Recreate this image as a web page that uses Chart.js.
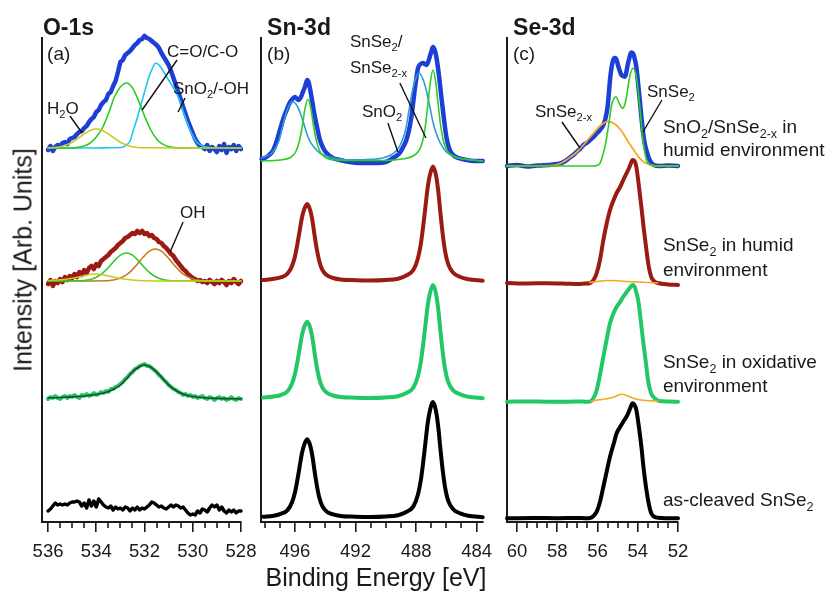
<!DOCTYPE html>
<html>
<head>
<meta charset="utf-8">
<script src="https://cdn.jsdelivr.net/npm/chart.js@4.4.0/dist/chart.umd.min.js"></script>
<style>
  body { margin: 0; background: #fff; }
  #wrap { position: relative; width: 825px; height: 591px; font-family: "Liberation Sans", Arial, sans-serif; color: #1a1a1a; }
  #wrap canvas { position: absolute; left: 0; top: 0; }
  .ytitle { position: absolute; left: 23px; top: 260px; transform: translate(-50%, -50%) rotate(-90deg); font-size: 25px; white-space: nowrap; }
  .xtitle { position: absolute; left: 376px; top: 577px; transform: translate(-50%, -50%); font-size: 25px; white-space: nowrap; }
</style>
</head>
<body>
<div id="wrap">
  <canvas id="chartA" width="825" height="591"></canvas>
  <canvas id="chartB" width="825" height="591"></canvas>
  <canvas id="chartC" width="825" height="591"></canvas>
  <div class="ytitle">Intensity [Arb. Units]</div>
  <div class="xtitle">Binding Energy [eV]</div>
</div>
<script>
// ---- tick labels ----
const o1sMajor = [536, 534, 532, 530, 528];
const o1sMinor = [535.5, 535, 534.5, 533.5, 533, 532.5, 531.5, 531, 530.5, 529.5, 529, 528.5];
const sn3dMajor = [496, 492, 488, 484];
const sn3dMinor = [498, 497, 495, 494, 493, 491, 490, 489, 487, 486, 485];
const se3dMajor = [60, 58, 56, 54, 52];
const se3dMinor = [59.5, 59, 58.5, 57.5, 57, 56.5, 55.5, 55, 54.5, 53.5, 53, 52.5];

// ---- O-1s (a) : measured traces on a common energy grid ----
const o1sEnergy = [
  536.0, 535.9, 535.8, 535.7, 535.6, 535.5, 535.4, 535.3, 535.2, 535.1,
  535.0, 534.9, 534.8, 534.7, 534.6, 534.5, 534.4, 534.3, 534.2, 534.1,
  534.0, 533.9, 533.8, 533.7, 533.6, 533.5, 533.4, 533.3, 533.2, 533.1,
  533.0, 532.9, 532.8, 532.7, 532.6, 532.5, 532.4, 532.3, 532.2, 532.1,
  532.0, 531.9, 531.8, 531.7, 531.6, 531.5, 531.4, 531.3, 531.2, 531.1,
  531.0, 530.9, 530.8, 530.7, 530.6, 530.5, 530.4, 530.3, 530.2, 530.1,
  530.0, 529.9, 529.8, 529.7, 529.6, 529.5, 529.4, 529.3, 529.2, 529.1,
  529.0, 528.9, 528.8, 528.7, 528.6, 528.5, 528.4, 528.3, 528.2, 528.1,
  528.0];
const o1sHumidOx = [
  372, 376, 371, 375, 377, 376, 379, 380, 378, 383,
  384, 385, 388, 390, 391, 394, 396, 400, 403, 405,
  410, 412, 417, 420, 422, 428, 430, 436, 441, 450,
  460, 462, 467, 469, 471, 474, 477, 479, 482, 483,
  486, 484, 483, 481, 479, 477, 474, 469, 465, 461,
  457, 451, 444, 437, 430, 423, 415, 408, 401, 395,
  389, 383, 379, 376, 375, 373, 377, 371, 375, 373,
  370, 376, 372, 378, 369, 375, 373, 377, 371, 376,
  373];
const o1sHumid = [
  238, 242, 236, 241, 239, 243, 240, 245, 242, 246,
  244, 248, 245, 250, 247, 252, 249, 254, 256, 253,
  258, 256, 261, 263, 265, 267, 270, 272, 274, 277,
  279, 281, 284, 285, 287, 289, 288, 291, 289, 291,
  288, 289, 286, 287, 284, 283, 280, 279, 276, 274,
  271, 268, 266, 262, 259, 256, 253, 251, 248, 246,
  244, 243, 241, 242, 240, 241, 239, 242, 240, 238,
  241, 239, 242, 240, 237, 241, 239, 243, 240, 238,
  241];
const o1sOxid = [
  123, 125, 124, 126, 124, 123, 125, 126, 124, 126,
  125, 127, 125, 124, 127, 126, 128, 126, 127, 129,
  127, 128, 130, 129, 131, 130, 133, 133, 135, 136,
  138, 140, 143, 145, 148, 150, 153, 154, 156, 157,
  158, 156, 156, 154, 152, 150, 147, 145, 142, 140,
  137, 135, 133, 132, 130, 129, 127, 128, 126, 127,
  125, 126, 124, 125, 126, 124, 123, 125, 124, 122,
  124, 125, 123, 124, 122, 123, 125, 123, 122, 124,
  123];
const o1sCleaved = [
  11, 13, 16, 19, 17, 18, 17, 18, 17, 19,
  20, 20, 21, 20, 16, 19, 14, 22, 16, 21,
  15, 23, 20, 17, 15, 14, 16, 12, 15, 13,
  14, 12, 15, 14, 11, 14, 12, 15, 12, 14,
  13, 15, 17, 20, 19, 17, 15, 16, 14, 13,
  15, 17, 15, 17, 16, 14, 15, 12, 9, 7,
  8, 7, 11, 9, 13, 12, 10, 14, 17, 15,
  17, 12, 15, 11, 9, 12, 10, 12, 9, 11,
  11];

// O-1s fitted components
const o1sH2oE = [536, 535.75, 535.5, 535.25, 535, 534.75, 534.5, 534.25, 534, 533.75, 533.5, 533.25, 533, 532.75, 532.5, 532.25, 532, 530, 528];
const o1sH2oY = [374.2, 374.5, 375.3, 377, 379.8, 383.8, 388.1, 391.6, 393, 391.6, 388.1, 383.8, 379.8, 377, 375.3, 374.5, 374.2, 374, 374];
const o1sCoE = [536, 535, 534.75, 534.5, 534.25, 534, 533.75, 533.5, 533.25, 533, 532.75, 532.5, 532.25, 532, 531.75, 531.5, 531.25, 531, 530.75, 530.5, 528];
const o1sCoY = [374, 374, 374.6, 376, 379, 385, 394, 408, 425, 435, 439, 434, 421.4, 406, 392.5, 383.1, 377.8, 375.4, 374.4, 374, 374];
const o1sSnO2E = [536, 534, 533.5, 533, 532.88, 532.75, 532.6, 532.46, 532.3, 532.19, 532.0, 531.8, 531.65, 531.54, 531.4, 531.2, 531.0, 530.85, 530.67, 530.5, 530.39, 530.25, 530.11, 529.97, 529.84, 529.6, 529.3, 529, 528];
const o1sSnO2Y = [374, 374, 374.2, 374.5, 375, 377, 381, 392, 404, 413.7, 430, 446, 455, 459, 457, 450, 442, 436, 428.7, 419, 410, 401, 392, 385, 380, 376, 374.5, 374, 374];
const o1sHumidH2oE = [536, 535.5, 535, 534.5, 534.1, 533.75, 533.5, 533, 532.5, 532, 530, 528];
const o1sHumidH2oY = [241.5, 242.2, 243.8, 246.2, 248, 247.3, 246, 243.5, 242, 241.3, 241, 241];
const o1sHumidCoE = [536, 534.75, 534.5, 534.25, 534, 533.75, 533.5, 533.25, 533, 532.75, 532.5, 532.25, 532, 531.75, 531.5, 531.25, 531, 530.75, 528];
const o1sHumidCoY = [241, 241.2, 241.5, 242.5, 244.7, 248.6, 254.5, 261.2, 266.8, 269, 266.8, 261.2, 254.5, 248.6, 244.7, 242.5, 241.5, 241.2, 241];
const o1sOhE = [536, 533.55, 533.3, 533.05, 532.8, 532.55, 532.3, 532.05, 531.8, 531.55, 531.3, 531.05, 530.8, 530.55, 530.3, 530.05, 529.8, 529.55, 529.3, 528];
const o1sOhY = [241, 241.3, 242, 243.4, 246.3, 251.2, 257.8, 265, 270.8, 273, 270.8, 265, 257.8, 251.2, 246.3, 243.4, 242, 241.3, 241.1, 241];
const o1sOxidFitE = [536, 535.75, 535.5, 535.25, 535, 534.75, 534.5, 534.25, 534, 533.75, 533.5, 533.25, 533, 532.75, 532.5, 532.25, 532, 531.75, 531.5, 531.25, 531, 530.75, 530.5, 530.25, 530, 529.75, 529.5, 529.25, 529, 528.75, 528.5, 528.25, 528];
const o1sOxidFitY = [124.2, 124.3, 124.5, 124.8, 125.1, 125.5, 126, 126.7, 127.5, 128.7, 130.5, 133.2, 137, 143.2, 150, 154.8, 157, 155, 150.2, 143.5, 137.2, 132.5, 129, 126.8, 125.5, 124.7, 124.2, 123.8, 123.6, 123.4, 123.3, 123.2, 123.1];

// ---- Sn-3d (b) ----
const sn3dBlueE = [498.2, 497.98, 497.7, 497.43, 497.2, 496.99, 496.75, 496.55, 496.35, 496.22, 496.0, 495.85, 495.78, 495.6, 495.45, 495.34, 495.19, 495.1, 495.01, 494.85, 494.68, 494.5, 494.35, 494.1, 493.91, 493.5, 493.03, 492.4, 491.71, 491.0, 490.61, 490.0, 489.52, 489.3, 489.08, 488.85, 488.64, 488.45, 488.31, 488.2, 488.09, 487.97, 487.87, 487.7, 487.54, 487.42, 487.32, 487.2, 487.1, 486.98, 486.88, 486.77, 486.66, 486.5, 486.33, 486.15, 486.0, 485.8, 485.56, 485.2, 484.68, 484.2, 483.6];
const sn3dBlueY = [363, 364, 367, 372, 381, 392, 404, 412, 419, 422, 425, 423, 422, 425, 431, 435, 442, 440, 434, 420, 405, 392, 382, 373, 369, 364, 362, 360, 359, 359, 359, 360, 364, 366, 369, 375, 382, 393, 405, 418, 432, 445, 454, 458, 459, 458, 457, 460, 465, 471, 475, 472, 465, 448, 425, 402, 385, 373, 367, 364, 362, 361, 361];
const sn3dSnSe2E = [498.2, 497.0, 496.3, 495.95, 495.7, 495.5, 495.34, 495.14, 494.94, 494.78, 494.58, 494.33, 493.98, 493.3, 492.0, 490.5, 489.5, 488.8, 488.2, 487.8, 487.6, 487.4, 487.22, 487.07, 486.88, 486.69, 486.54, 486.36, 486.16, 485.96, 485.56, 484.96, 484.26, 483.6];
const sn3dSnSe2Y = [361, 362, 364.5, 370, 381, 397, 413, 422.7, 413, 397, 381, 370, 364.5, 362, 361.5, 361.5, 362, 363.2, 366, 371.5, 379, 394.5, 417.5, 438.5, 452, 438.5, 417.5, 394.5, 379, 371.5, 366, 363.2, 362, 361];
const sn3dSnO2E = [498.2, 497.6, 497.25, 497.05, 496.85, 496.65, 496.45, 496.15, 495.85, 495.65, 495.45, 495.25, 495.05, 494.75, 494.35, 493.75, 492.65, 491.3, 490.2, 489.6, 489.2, 488.9, 488.7, 488.5, 488.3, 488.1, 487.8, 487.5, 487.3, 487.1, 486.9, 486.7, 486.4, 486.0, 485.4, 484.3, 483.6];
const sn3dSnO2Y = [364.4, 368, 374.8, 381.5, 393, 405.3, 414.5, 420.5, 416, 409, 400, 390, 382, 375, 369, 365, 362.2, 362.5, 364, 367.5, 373, 382, 391.5, 408.7, 426.5, 440, 449, 441, 430, 416, 401, 390, 379, 370, 365, 362, 361];
const sn3dPeakE = [498.1, 497.4, 496.9, 496.49, 496.19, 495.99, 495.84, 495.69, 495.54, 495.39, 495.19, 494.99, 494.84, 494.69, 494.54, 494.39, 494.19, 493.89, 493.48, 492.98, 492.0, 491.0, 490.0, 489.2, 488.68, 488.18, 487.88, 487.68, 487.53, 487.38, 487.23, 487.08, 486.88, 486.68, 486.53, 486.38, 486.23, 486.08, 485.88, 485.58, 485.08, 484.56, 483.6];
const sn3dHumid = [242, 243.2, 244.8, 248.3, 256, 266, 277.7, 290.9, 304, 312.6, 318, 311.8, 301, 285.5, 271.5, 260.7, 252.1, 246.7, 244, 242.5, 241.8, 241.5, 242, 243.3, 246.2, 252, 263.5, 278.5, 295.7, 315.3, 334.8, 347.5, 355.5, 346.3, 330.2, 307.2, 286.5, 270.4, 257.8, 249.7, 245, 242.8, 241.3];
const sn3dOxid = [124.5, 125.5, 127.2, 130.8, 138.5, 148.5, 160, 173.2, 186.4, 194.9, 200.3, 194.1, 183.3, 167.8, 153.9, 143.1, 134.6, 129.2, 126.5, 125, 124.3, 124, 124.5, 125.8, 128.7, 134.4, 145.8, 160.6, 177.7, 197.1, 216.5, 229, 237, 227.9, 211.9, 189.1, 168.6, 152.6, 140.1, 132.1, 127.6, 125.3, 123.8];
const sn3dCleaved = [5.3, 6.3, 8.3, 11.9, 19.7, 30, 41.8, 55.2, 68.5, 77.2, 82.7, 76.4, 65.4, 49.6, 35.5, 24.5, 15.8, 10.3, 7.6, 6, 5.3, 5, 5.5, 6.8, 9.8, 15.6, 27.2, 42.3, 59.7, 79.4, 99.1, 111.8, 120, 110.7, 94.5, 71.3, 50.4, 34.2, 21.4, 13.3, 8.6, 6.3, 4.8];

// ---- Se-3d (c) ----
const se3dBlueE = [60.5, 60.0, 59.5, 59.0, 58.68, 58.2, 57.85, 57.6, 57.36, 57.2, 57.03, 56.87, 56.7, 56.54, 56.37, 56.2, 56.04, 55.88, 55.71, 55.6, 55.5, 55.44, 55.38, 55.3, 55.22, 55.14, 55.05, 54.97, 54.81, 54.64, 54.48, 54.31, 54.22, 54.15, 54.07, 53.99, 53.9, 53.82, 53.74, 53.65, 53.53, 53.41, 53.2, 52.91, 52.5, 52.0];
const se3dBlueY = [356, 357, 355.5, 356.5, 356.7, 357.5, 358.7, 361, 364.7, 367, 370.3, 373, 377, 379, 382, 385, 388.7, 392, 397, 404, 415.3, 428, 442, 455, 462, 464, 462, 456, 447, 445.3, 459, 469.5, 468, 463, 455, 440, 422, 405, 390, 378, 369, 362, 357, 356, 356.5, 356];
const se3dSnSe2E = [60.5, 56.2, 56.04, 55.88, 55.75, 55.63, 55.46, 55.3, 55.2, 55.09, 54.92, 54.76, 54.65, 54.56, 54.4, 54.23, 54.07, 53.9, 53.74, 53.57, 53.45, 53.33, 53.1, 52.0];
const se3dSnSe2Y = [356, 356, 356.5, 358.7, 366, 375.3, 395.3, 417, 423, 425.3, 418.7, 413.7, 417, 425.3, 445.3, 453.7, 445.3, 415.3, 382, 362, 358, 356.7, 356, 356];
const se3dSnSe2xE = [60.5, 58.35, 58.0, 57.69, 57.45, 57.2, 56.95, 56.7, 56.45, 56.2, 55.88, 55.5, 55.14, 54.93, 54.73, 54.5, 54.31, 54.1, 53.9, 53.7, 53.49, 53.25, 53.08, 52.0];
const se3dSnSe2xY = [356, 356.3, 357.5, 360.3, 363.5, 367, 371.5, 377, 383, 388.7, 396, 400.3, 398, 394, 388.7, 381, 375.3, 369, 363.7, 360, 358, 356.7, 356, 356];
const se3dHumidE = [60.5, 59.5, 58.5, 57.5, 57.03, 56.6, 56.37, 56.2, 56.04, 55.88, 55.71, 55.55, 55.38, 55.2, 55.05, 54.88, 54.72, 54.6, 54.48, 54.37, 54.26, 54.16, 54.07, 53.95, 53.82, 53.7, 53.57, 53.45, 53.33, 53.17, 53.0, 52.5, 52.0];
const se3dHumidY = [239, 238.5, 238.8, 238.3, 238, 238.5, 239, 242, 249, 262, 282, 298, 312, 322, 329, 335, 342, 347, 352, 357, 362, 361, 355, 337, 315, 293, 272, 255, 245, 240.5, 239, 237.5, 237];
const se3dHumidFitE = [56.4, 56.0, 55.5, 55.0, 54.5, 54.0, 53.5, 53.0];
const se3dHumidFitY = [239.5, 240.5, 241.5, 241.2, 240.5, 240, 239.5, 239];
const se3dOxidE = [60.5, 59.0, 58.0, 57.0, 56.6, 56.37, 56.2, 56.04, 55.88, 55.71, 55.55, 55.38, 55.2, 55.05, 54.88, 54.72, 54.55, 54.4, 54.26, 54.15, 54.05, 53.98, 53.86, 53.74, 53.6, 53.49, 53.36, 53.24, 53.05, 52.91, 52.5, 52.0];
const se3dOxidY = [120.3, 120.5, 120.2, 120.5, 120.3, 120.5, 124, 132, 147, 165.3, 182, 198.7, 209, 215.3, 220, 225.3, 230, 234, 237, 235, 228, 222, 203, 182, 160, 142, 130, 125.3, 122, 121, 120.5, 120.3];
const se3dOxidFitE = [56.3, 56.0, 55.7, 55.4, 55.15, 54.95, 54.8, 54.65, 54.45, 54.25, 54.0, 53.6, 53.0];
const se3dOxidFitY = [121, 122, 122.8, 123.8, 125.2, 127, 127.7, 127.2, 125.5, 124, 122.5, 121.5, 121];
const se3dCleavedE = [60.5, 59.2, 58.0, 57.0, 56.6, 56.37, 56.2, 56.04, 55.88, 55.71, 55.55, 55.38, 55.2, 55.05, 54.88, 54.72, 54.6, 54.48, 54.37, 54.26, 54.16, 54.07, 53.95, 53.82, 53.7, 53.57, 53.45, 53.33, 53.15, 53.0, 52.5, 52.0];
const se3dCleavedY = [3.7, 4, 3.8, 4, 3.8, 4, 6, 10.3, 20, 35.3, 50, 65.3, 78, 88.7, 95, 100.3, 104, 108.7, 114, 118.7, 117, 112, 96, 75.3, 52, 32, 18, 8.7, 5, 4.3, 3.8, 3.7];

// ---- styling ----
const FONT = '"Liberation Sans", Arial, sans-serif';
const AXIS = '#1a1a1a';
const INK = '#1a1a1a';
const BLUE = '#1d3fd5', RED = '#9b1b12', SPRING = '#22c866', BLACK = '#000000';
const GREEN = '#2ccc22', CYAN = '#20c5f2', SKY = '#2b9ed6', YELLOW = '#c9c921', BROWN = '#c27c1e', ORANGE = '#f7a823', DARKFIT = '#1f4d2a';
Chart.defaults.font.family = FONT;

function pts(xs, ys) {
  return xs.map((x, i) => ({ x: x, y: ys[i] }));
}

function trace(xs, ys, color, width, order, smooth) {
  return {
    data: pts(xs, ys), borderColor: color, borderWidth: width, order: order,
    pointRadius: 0, fill: false, tension: 0, clip: false,
    cubicInterpolationMode: smooth ? 'monotone' : 'default',
    borderJoinStyle: 'round', borderCapStyle: 'round'
  };
}

// text with _{subscript} parts
function drawRich(ctx, text, x, y, size, bold) {
  let cx = x;
  text.split(/(_\{[^}]*\})/).forEach(p => {
    if (!p) return;
    const sub = p.startsWith('_{');
    const s = sub ? p.slice(2, -1) : p;
    const fs = sub ? size * 0.66 : size;
    ctx.font = (bold ? 'bold ' : '') + fs + 'px ' + FONT;
    ctx.fillText(s, cx, sub ? y + size * 0.24 : y);
    cx += ctx.measureText(s).width;
  });
}

function decor(minors, notes) {
  return {
    id: 'decor',
    afterDraw(chart) {
      const ctx = chart.ctx, xs = chart.scales.x, ys = chart.scales.y;
      const bottom = chart.chartArea.bottom;
      ctx.save();
      ctx.strokeStyle = AXIS;
      ctx.lineWidth = 1.6;
      minors.forEach(v => {
        const px = Math.round(xs.getPixelForValue(v));
        ctx.beginPath();
        ctx.moveTo(px, bottom);
        ctx.lineTo(px, bottom + 6);
        ctx.stroke();
      });
      ctx.fillStyle = INK;
      ctx.textBaseline = 'alphabetic';
      ctx.textAlign = 'left';
      notes.forEach(n => {
        if (n.from) {
          ctx.strokeStyle = '#111';
          ctx.lineWidth = 1.4;
          ctx.beginPath();
          ctx.moveTo(xs.getPixelForValue(n.from[0]), ys.getPixelForValue(n.from[1]));
          ctx.lineTo(xs.getPixelForValue(n.to[0]), ys.getPixelForValue(n.to[1]));
          ctx.stroke();
        } else {
          drawRich(ctx, n.text, xs.getPixelForValue(n.at[0]), ys.getPixelForValue(n.at[1]), n.size, n.bold);
        }
      });
      ctx.restore();
    }
  };
}

function makePanel(id, xMin, xMax, left, right, majors, minors, datasets, notes) {
  return new Chart(document.getElementById(id), {
    type: 'line',
    data: { datasets: datasets },
    options: {
      responsive: false,
      animation: false,
      devicePixelRatio: 1,
      events: [],
      layout: { padding: { left: left, right: 825 - right, top: 38, bottom: 0 } },
      plugins: { legend: { display: false }, tooltip: { enabled: false } },
      scales: {
        x: {
          type: 'linear', reverse: true, min: xMin, max: xMax,
          afterFit: s => { s.height = 69; },
          afterBuildTicks: s => { s.ticks = majors.map(v => ({ value: v })); },
          grid: { display: true, drawOnChartArea: false, drawTicks: true, tickLength: 10, color: AXIS, lineWidth: 1.6 },
          border: { display: true, color: AXIS, width: 2 },
          ticks: { color: INK, font: { size: 18.5 }, padding: 9, maxRotation: 0, autoSkip: false, callback: v => String(v) }
        },
        y: {
          type: 'linear', min: 0, max: 484,
          afterFit: s => { s.width = 0; },
          grid: { display: false },
          ticks: { display: false },
          border: { display: true, color: AXIS, width: 2 }
        }
      }
    },
    plugins: [decor(minors, notes)]
  });
}

// panel (a) O-1s
makePanel('chartA', 528, 536.25, 42, 241, o1sMajor, o1sMinor, [
  trace(o1sH2oE, o1sH2oY, YELLOW, 1.6, 0, true),
  trace(o1sCoE, o1sCoY, GREEN, 1.6, 0, true),
  trace(o1sSnO2E, o1sSnO2Y, CYAN, 1.6, 0, true),
  trace(o1sEnergy, o1sHumidOx, BLUE, 4.5, 1, false),
  trace(o1sHumidH2oE, o1sHumidH2oY, YELLOW, 1.6, 0, true),
  trace(o1sHumidCoE, o1sHumidCoY, GREEN, 1.6, 0, true),
  trace(o1sOhE, o1sOhY, BROWN, 1.6, 0, true),
  trace(o1sEnergy, o1sHumid, RED, 4.5, 1, false),
  trace(o1sOxidFitE, o1sOxidFitY, DARKFIT, 1.6, 0, true),
  trace(o1sEnergy, o1sOxid, SPRING, 4, 1, false),
  trace(o1sEnergy, o1sCleaved, BLACK, 3.5, 1, false)
], [
  { text: 'O-1s', at: [536.21, 487], size: 23, bold: true },
  { text: '(a)', at: [536.04, 462], size: 19 },
  { text: 'H_{2}O', at: [536.04, 408], size: 17 },
  { from: [535.09, 406], to: [534.59, 389] },
  { text: 'C=O/C-O', at: [531.07, 465], size: 17 },
  { from: [530.65, 462], to: [532.10, 412] },
  { text: 'SnO_{2}/-OH', at: [530.82, 428], size: 17 },
  { from: [530.32, 424], to: [530.61, 410] },
  { text: 'OH', at: [530.53, 304], size: 17 },
  { from: [530.4, 300], to: [530.94, 270] }
]);

// panel (b) Sn-3d
makePanel('chartB', 483.58, 498.24, 261, 483, sn3dMajor, sn3dMinor, [
  trace(sn3dSnSe2E, sn3dSnSe2Y, GREEN, 1.6, 0, true),
  trace(sn3dSnO2E, sn3dSnO2Y, SKY, 1.6, 0, true),
  trace(sn3dBlueE, sn3dBlueY, BLUE, 4.5, 1, true),
  trace(sn3dPeakE, sn3dHumid, RED, 4, 1, true),
  trace(sn3dPeakE, sn3dOxid, SPRING, 4, 1, true),
  trace(sn3dPeakE, sn3dCleaved, BLACK, 4, 1, true)
], [
  { text: 'Sn-3d', at: [497.84, 487], size: 23, bold: true },
  { text: '(b)', at: [497.84, 462], size: 19 },
  { text: 'SnSe_{2}/', at: [492.37, 475], size: 17 },
  { text: 'SnSe_{2-x}', at: [492.37, 449], size: 17 },
  { text: 'SnO_{2}', at: [491.57, 405], size: 17 },
  { from: [489.86, 399], to: [489.2, 370] },
  { from: [489.07, 439], to: [487.35, 384] }
]);

// panel (c) Se-3d
makePanel('chartC', 52, 60.5, 507, 678, se3dMajor, se3dMinor, [
  trace(se3dSnSe2E, se3dSnSe2Y, GREEN, 1.6, 0, true),
  trace(se3dSnSe2xE, se3dSnSe2xY, ORANGE, 1.8, 0, true),
  trace(se3dBlueE, se3dBlueY, BLUE, 4.5, 1, true),
  trace(se3dHumidFitE, se3dHumidFitY, ORANGE, 1.6, 0, true),
  trace(se3dHumidE, se3dHumidY, RED, 4, 1, true),
  trace(se3dOxidFitE, se3dOxidFitY, ORANGE, 1.6, 0, true),
  trace(se3dOxidE, se3dOxidY, SPRING, 4, 1, true),
  trace(se3dCleavedE, se3dCleavedY, BLACK, 4, 1, true)
], [
  { text: 'Se-3d', at: [60.2, 487], size: 23, bold: true },
  { text: '(c)', at: [60.2, 462], size: 19 },
  { text: 'SnSe_{2}', at: [53.54, 425], size: 17 },
  { from: [52.8, 422], to: [53.74, 390] },
  { text: 'SnSe_{2-x}', at: [59.11, 405], size: 17 },
  { from: [57.77, 400], to: [56.87, 374] },
  { text: 'SnO_{2}/SnSe_{2-x} in', at: [52.75, 389], size: 19 },
  { text: 'humid environment', at: [52.75, 366], size: 19 },
  { text: 'SnSe_{2} in humid', at: [52.75, 271], size: 19 },
  { text: 'environment', at: [52.75, 246], size: 19 },
  { text: 'SnSe_{2} in oxidative', at: [52.75, 154], size: 19 },
  { text: 'environment', at: [52.75, 130], size: 19 },
  { text: 'as-cleaved SnSe_{2}', at: [52.75, 16], size: 19 }
]);
</script>
</body>
</html>
